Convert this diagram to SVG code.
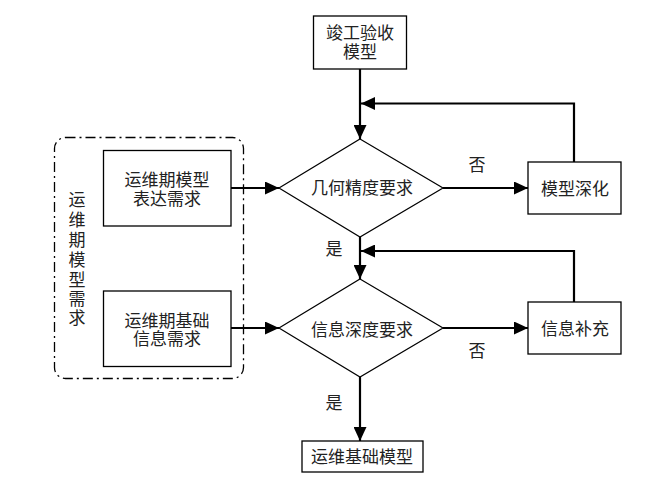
<svg xmlns="http://www.w3.org/2000/svg" width="665" height="491" viewBox="0 0 665 491">
<style>
.box{fill:#fff;stroke:#000;stroke-width:1.3}
.dia{fill:#fff;stroke:#000;stroke-width:1.2}
.con{fill:none;stroke:#000;stroke-width:2.2}
.grp{fill:none;stroke:#000;stroke-width:1.3;stroke-dasharray:10 4 2 4}
text{font-family:"Liberation Sans","Noto Sans CJK SC",sans-serif;font-size:17px;fill:#222;text-anchor:middle;dominant-baseline:central}
</style>
<defs>
<marker id="ah" markerUnits="userSpaceOnUse" markerWidth="14" markerHeight="13" refX="14" refY="6.5" orient="auto">
<path d="M0,0 L14,6.5 L0,13 z" fill="#000"/>
</marker>
</defs>
<rect width="665" height="491" fill="#fff"/>
<g id="group-req">
<rect class="grp" x="54.5" y="137.5" width="189" height="241" rx="11"/>
<text x="77" y="200">运</text>
<text x="77" y="220">维</text>
<text x="77" y="240">期</text>
<text x="77" y="260">模</text>
<text x="77" y="280">型</text>
<text x="77" y="299">需</text>
<text x="77" y="318">求</text>
</g>
<g id="connectors">
<path class="con" d="M360,69 V139" marker-end="url(#ah)"/>
<path class="con" d="M574,162 V103.5 H361" marker-end="url(#ah)"/>
<path class="con" d="M231,188 H279" marker-end="url(#ah)"/>
<path class="con" d="M443,188 H528" marker-end="url(#ah)"/>
<path class="con" d="M360,237 V279" marker-end="url(#ah)"/>
<path class="con" d="M574,302 V251 H361" marker-end="url(#ah)"/>
<path class="con" d="M231,328 H279" marker-end="url(#ah)"/>
<path class="con" d="M443,328 H528" marker-end="url(#ah)"/>
<path class="con" d="M360,377 V441" marker-end="url(#ah)"/>
</g>
<g id="labels">
<text x="477" y="165">否</text>
<text x="334" y="249">是</text>
<text x="477" y="351">否</text>
<text x="334" y="403">是</text>
</g>
<g id="n-start">
<rect class="box" x="313.5" y="16" width="93" height="53"/>
<text x="360" y="33">竣工验收</text>
<text x="360" y="52">模型</text>
</g>
<g id="n-geo">
<polygon class="dia" points="360,139 443,188 360,237 279,188"/>
<text x="362" y="188">几何精度要求</text>
</g>
<g id="n-deepen">
<rect class="box" x="528" y="162" width="93" height="52"/>
<text x="575" y="189">模型深化</text>
</g>
<g id="n-expr">
<rect class="box" x="103.5" y="150.5" width="127.5" height="75.5"/>
<text x="167" y="180">运维期模型</text>
<text x="167" y="199">表达需求</text>
</g>
<g id="n-info-req">
<rect class="box" x="103.5" y="291" width="127.5" height="75.5"/>
<text x="167" y="321">运维期基础</text>
<text x="167" y="339">信息需求</text>
</g>
<g id="n-depth">
<polygon class="dia" points="360,279 443,328 360,377 279,328"/>
<text x="362" y="330">信息深度要求</text>
</g>
<g id="n-supp">
<rect class="box" x="528" y="302" width="93" height="52"/>
<text x="575" y="329">信息补充</text>
</g>
<g id="n-end">
<rect class="box" x="302" y="441" width="121" height="31"/>
<text x="362" y="457">运维基础模型</text>
</g>
</svg>
